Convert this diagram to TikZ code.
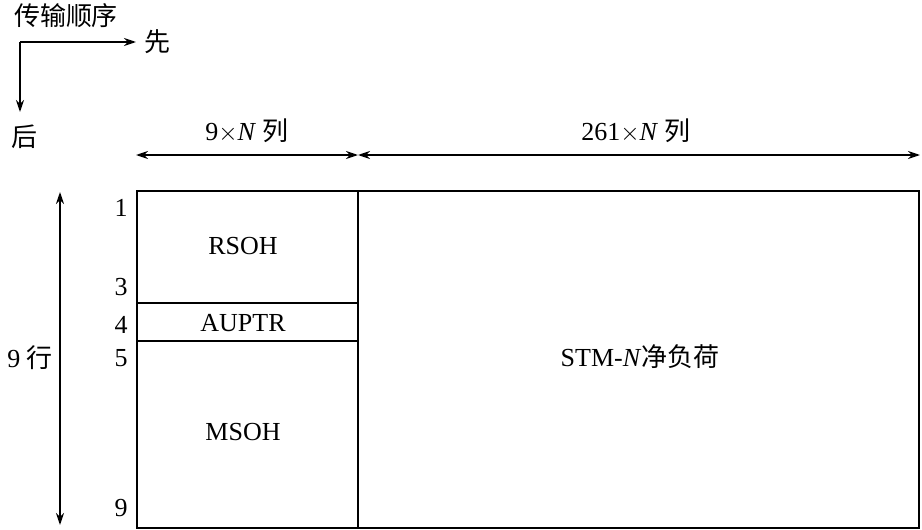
\documentclass[tikz,border=0pt]{standalone}
\usepackage{fontspec}
\usetikzlibrary{arrows.meta}
\setmainfont{Liberation Serif}
\newfontfamily\cjk{Noto Sans CJK SC}
\begin{document}
\begin{tikzpicture}[x=1pt,y=-1pt,font=\fontsize{26}{30}\selectfont,
  ln/.style={line width=1.5pt},
  arr/.style={line width=1.5pt,-{Stealth[length=12pt,width=8pt]}},
  darr/.style={line width=1.5pt,{Stealth[length=12pt,width=8pt]}-{Stealth[length=12pt,width=8pt]}}]
\useasboundingbox (0,0) rectangle (922,530);
\node[draw,line width=2pt,minimum width=782pt,minimum height=337pt,anchor=north west,inner sep=0pt] (box) at (136,190) {};
\coordinate (dt) at (358,190); \coordinate (db) at (358,527);
\draw[ln] (dt) -- (db);
\coordinate (a1) at (136,303); \coordinate (a2) at (358,303);
\coordinate (b1) at (136,341); \coordinate (b2) at (358,341);
\draw[ln] (a1) -- (a2); \draw[ln] (b1) -- (b2);
\node (r1) at (121,208) {1};
\node (r3) at (121,287) {3};
\node (r4) at (121,325) {4};
\node (r5) at (121,358) {5};
\node (r9) at (121,508) {9};
\node (rsoh) at (243,246) {RSOH};
\node (auptr) at (243,323) {AUPTR};
\node (msoh) at (243,432) {MSOH};
\node (pay) at (640,357) {STM-\textit{N}{\cjk 净负荷}};
\coordinate (v1) at (60,192); \coordinate (v2) at (60,525);
\draw[darr] (v1) -- (v2);
\node[fill=white,inner sep=2pt] (rows) at (30,358) {9 {\cjk 行}};
\coordinate (h1) at (136,155); \coordinate (h2) at (358,155); \coordinate (h3) at (920,155);
\draw[darr] (h1) -- (h2); \draw[darr] (h2) -- (h3);
\node (c1) at (247,131) {9$\times$\textit{N} {\cjk 列}};
\node (c2) at (636,131) {261$\times$\textit{N} {\cjk 列}};
\node (ord) at (66,16) {\cjk 传输顺序};
\coordinate (k) at (20,42);
\node (first) at (157,42) {\cjk 先};
\node (last) at (25,137) {\cjk 后};
\draw[arr] (k) -- (136,42);
\draw[arr] (k) -- (20,112);
\end{tikzpicture}
\end{document}
